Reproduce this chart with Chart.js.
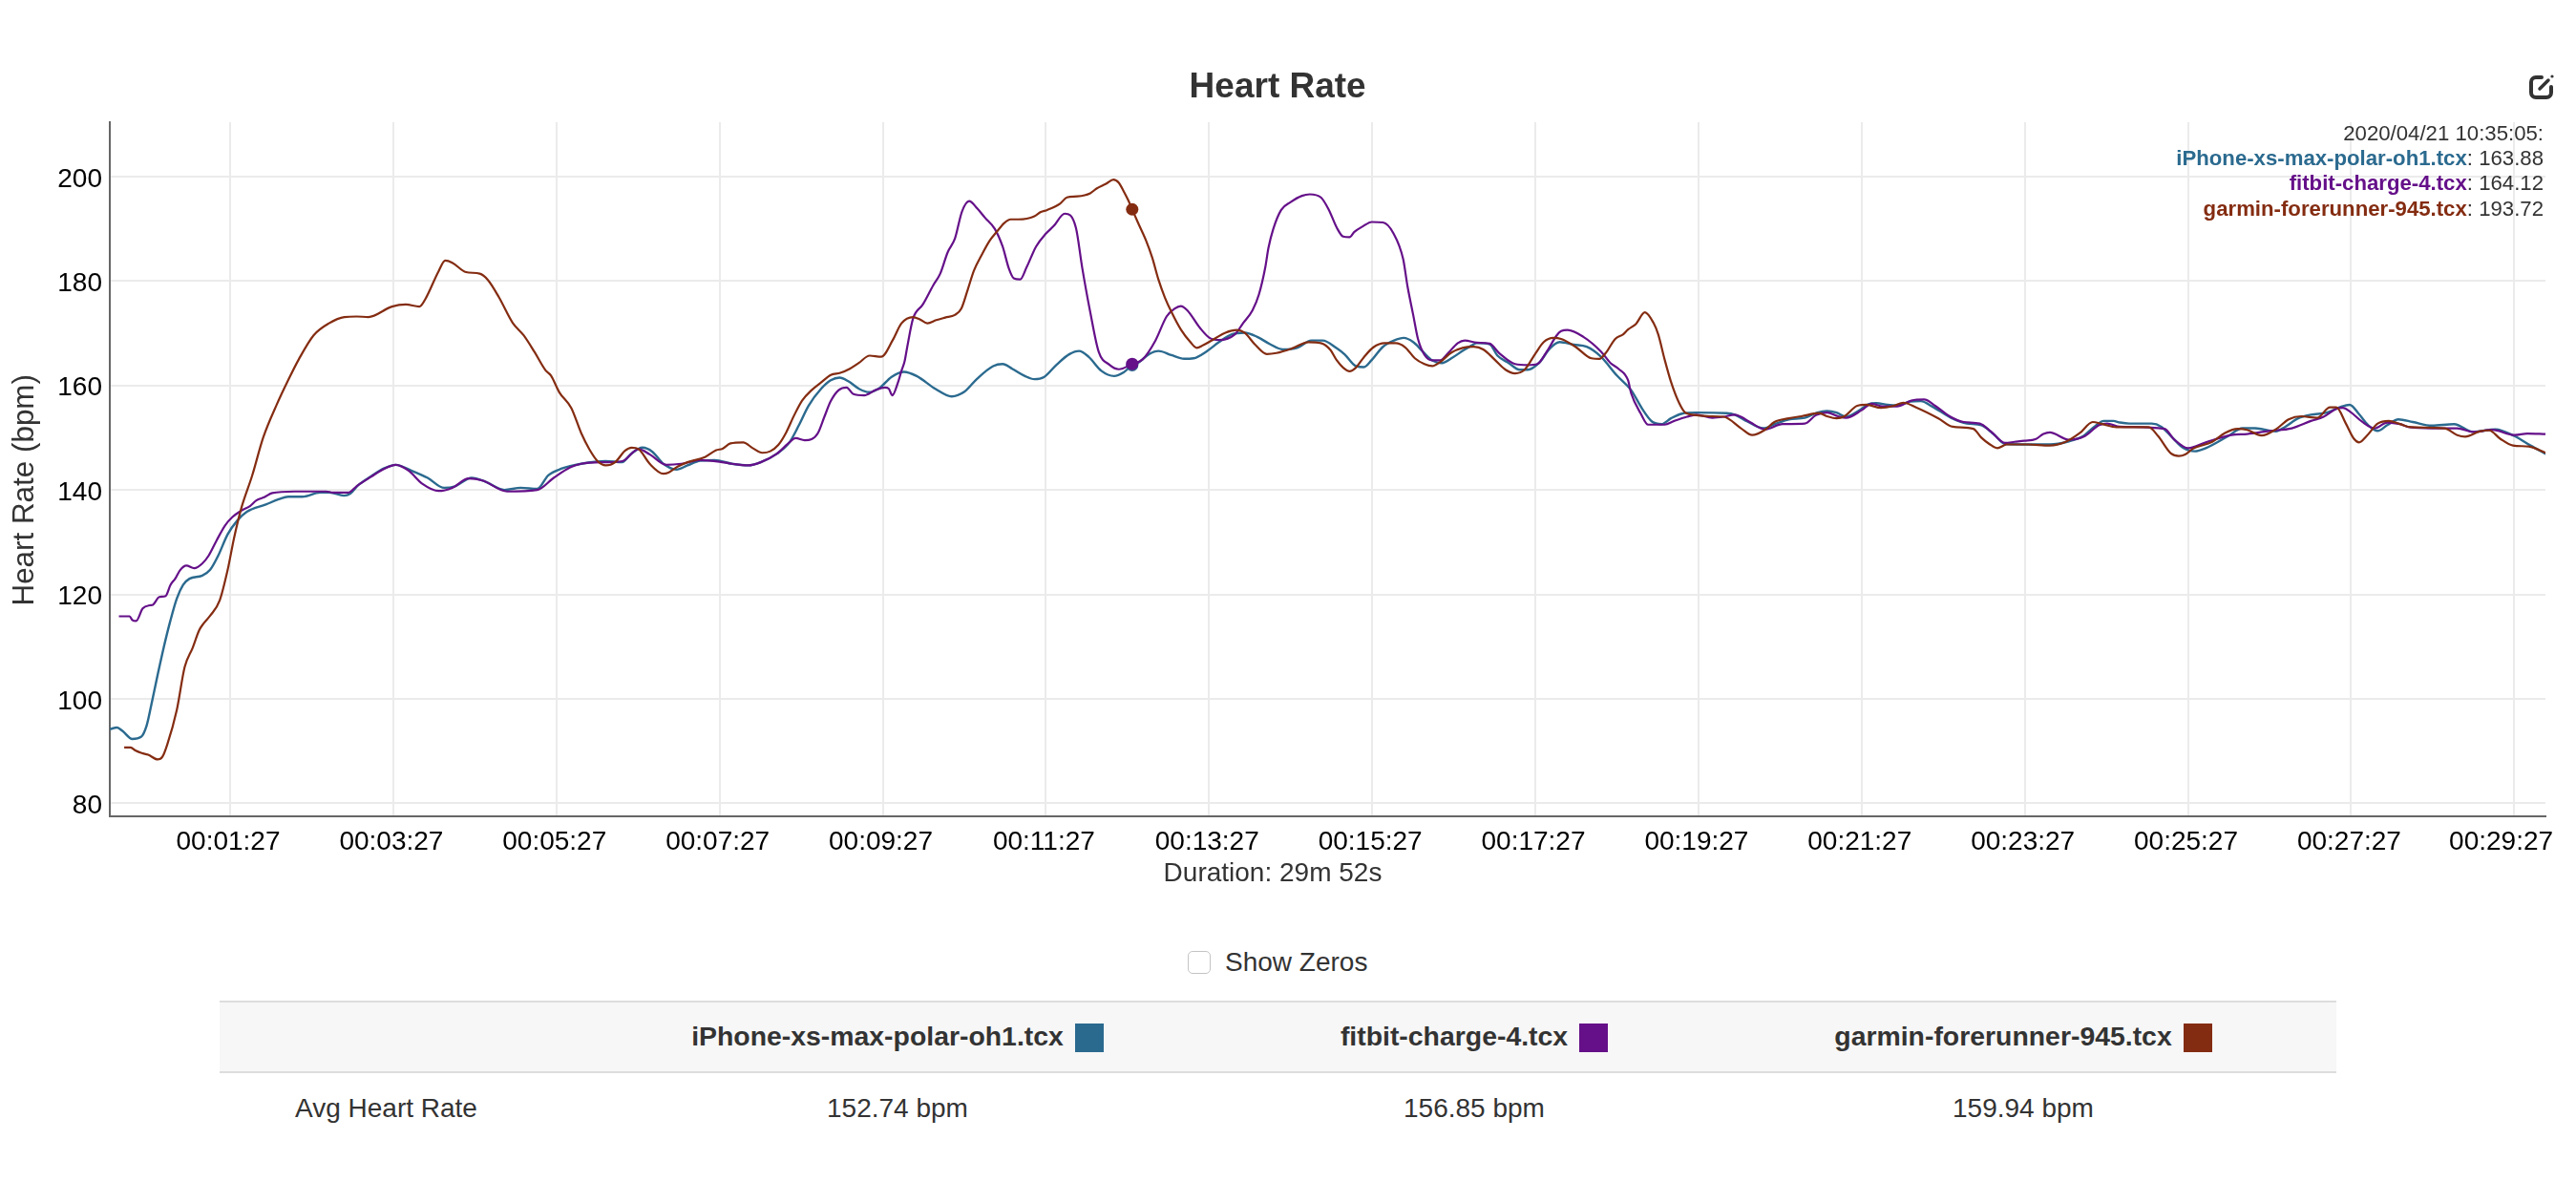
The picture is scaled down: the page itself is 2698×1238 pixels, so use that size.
<!DOCTYPE html>
<html>
<head>
<meta charset="utf-8">
<title>Heart Rate</title>
<script src="https://cdn.jsdelivr.net/npm/chart.js@4"></script>
<style>
html,body{margin:0;padding:0;background:#fff;width:2698px;height:1238px;overflow:hidden;font-family:"Liberation Sans",Arial,sans-serif;color:#333}
#wrap{position:relative;width:2698px;height:1238px}
canvas{position:absolute;left:0;top:0}
#hover{position:absolute;right:34px;top:127px;font-size:22.2px;line-height:26.2px;text-align:right;color:#333;white-space:nowrap}
#hover b{font-weight:bold}
#icon{position:absolute;left:2648px;top:77px;width:28px;height:28px}
#zeros{position:absolute;left:1244px;top:996px;height:24px;display:flex;align-items:center;font-size:28px;color:#333}
#zeros i{display:block;width:22px;height:22px;border:1.5px solid #c4c4c4;border-radius:5px;margin-right:15px}
table{position:absolute;left:230px;top:1048px;width:2217px;border-collapse:collapse;table-layout:fixed;font-size:28px;color:#333}
th{background:#f7f7f7;border-top:2px solid #ddd;border-bottom:2px solid #ddd;height:72px;padding:0;font-weight:bold;text-align:center;font-size:28.4px}
td{height:74px;padding:0;text-align:center}
td:first-child{text-align:left;padding-left:79px}
.sw{display:inline-block;width:30px;height:30px;margin-left:12px;vertical-align:middle;position:relative;top:-1px}
</style>
</head>
<body>
<div id="wrap">
<canvas id="c" width="2698" height="945"></canvas>
<svg id="icon" viewBox="0 0 28 28" fill="none" stroke="#333" stroke-width="4" stroke-linecap="round"><path d="M14 4H8a5 5 0 0 0-5 5v11a5 5 0 0 0 5 5h11a5 5 0 0 0 5-5v-6"/><path d="M12 16L21 7" stroke-width="3.5"/><circle cx="25" cy="3" r="1.6" fill="#333" stroke="none"/></svg>
<div id="hover"></div>
<div id="zeros"><i></i><span>Show Zeros</span></div>
<table id="tbl"></table>
</div>
<script>
const seriesNames = ["iPhone-xs-max-polar-oh1.tcx","fitbit-charge-4.tcx","garmin-forerunner-945.tcx"];
const seriesColors = ["#2b6a8f","#651089","#842c11"];
const avgHeartRate = ["152.74 bpm","156.85 bpm","159.94 bpm"];
const hoverLabel = "2020/04/21 10:35:05:";
const hoverValues = ["163.88","164.12","193.72"];
const hoverTime = 750.5;
const xTickSeconds = [87,207,327,447,567,687,807,927,1047,1167,1287,1407,1527,1647,1767];
const xTickLabels = ["00:01:27","00:03:27","00:05:27","00:07:27","00:09:27","00:11:27","00:13:27","00:15:27","00:17:27","00:19:27","00:21:27","00:23:27","00:25:27","00:27:27","00:29:27"];
const yTickValues = [80,100,120,140,160,180,200];

const polarTimes = [-1.4,3.8,8,15,21.5,25.5,29,33.7,38.4,43.1,47.8,52.4,57.1,66.5,72.3,78.2,85.2,92.2,99.3,113.3,122.7,129.7,140.2,153.1,160.1,170.7,175.4,181.2,190.6,200,208.9,220.2,232.3,244.4,252.5,264.6,274.6,288.7,300.8,312.9,321,331.1,345.2,363.3,375.4,381.5,390.3,397.6,405.7,415.3,423.4,432.8,443.3,456.2,467.9,477.3,489,498.4,505.4,512.4,521.8,528.8,535.3,541.7,549.9,556.9,565.1,573.3,582.6,592,606,617.7,627.1,636.5,648.2,655.2,662.2,671.6,678.6,685.6,695,704.4,711.4,718.4,727.8,737.2,744.2,750.5,754.7,762.9,769.9,779.3,788.7,795.7,805.1,814.4,823.8,833.1,842.5,851.9,861.2,871.8,882.3,890.5,901,906.9,915,920.9,926.8,934.9,943.1,950.2,957.2,964.2,971.2,978.3,985.3,994.6,1000.5,1004,1013.4,1019.2,1027.4,1035.6,1041.5,1049.7,1057.8,1064.9,1075.4,1084.8,1095.3,1107,1117.5,1125.7,1132.8,1139.8,1146.8,1155,1165.5,1187.8,1193.7,1203,1214.7,1224.1,1233.5,1245.2,1254.5,1261.5,1268.6,1275.6,1285,1292,1297.8,1306,1313,1322.4,1330.6,1338.8,1352.8,1364.5,1375.1,1384.4,1392.6,1425.4,1439.5,1450,1458.2,1465.2,1472.2,1477,1484,1500.4,1507.4,1515.6,1523.8,1532,1540.2,1556.6,1567.1,1576.5,1591.7,1598.7,1608.1,1617.5,1629.2,1638.5,1646,1652.6,1659.6,1666.6,1673.6,1681.8,1692.4,1706.4,1722.8,1736.9,1753.2,1767.3,1779,1790.2];
const polarBpm = [94.2,94.5,93.8,92.3,92.7,94.8,98.8,104.6,110.1,115,119.2,121.8,123,123.6,124.7,127.4,131.5,134.1,135.8,137.2,138.2,138.7,138.7,139.5,139.5,138.9,139.3,140.9,142.6,144.1,144.8,143.7,142.3,140.4,140.7,142.3,141.6,140,140.4,140.2,142.8,144.1,145,145.5,145.3,146.8,148.1,147.3,145,143.9,144.7,145.6,145.7,145,144.7,145.3,146.9,149.1,152.4,156.1,159.4,161,161.5,160.8,159.3,158.7,159.6,161.6,162.6,161.8,159.3,157.9,158.8,161.3,163.7,164.1,163.2,161.8,161.2,161.6,164,166,166.6,165.5,162.8,161.8,162.5,163.88,164.3,166,166.6,165.8,165.1,165.2,166.5,168.3,169.8,170.1,169.3,167.9,166.9,167.2,168.6,168.6,167.1,165.9,163.7,163.5,164.9,167.4,168.6,169.1,168.3,166.5,164.8,164.3,165.2,166.8,167.7,168.1,167.9,165.7,164.3,163,163,164.3,167.1,168.3,167.8,167.4,165.5,161.9,159.1,155.5,153.1,152.6,153.7,154.6,154.8,154.7,154.4,153.1,151.8,152.7,153.5,153.8,154.8,155.1,154.8,154,155.2,156.4,156.6,156.3,156.2,156.9,157,156,153.8,152.7,152.4,150.6,148.8,148.7,149.3,150.3,152.1,153.2,153.2,152.9,152.7,152.7,152.1,150,148,147.4,148,150.3,151.8,151.8,151.2,152.1,153.7,154.4,154.8,155.8,156.3,154.6,152.4,151.3,152.4,153.5,153,152.3,152.6,151.1,151.6,150.3,148.5,146.9];

const fitbitTimes = [5.2,13.1,15,17.8,22.7,27.9,30.2,34.9,39.6,43.1,46.6,50.1,54.8,60.6,66.5,71.2,77,83.3,88.7,95,101.6,106.3,112.1,118,134.4,157.8,162.5,174.2,180,190.6,200,208.9,218.2,228.3,240.4,250.4,262.5,272.6,290.8,312.9,325,337.1,345.2,363.3,375.4,387.5,395.6,407.8,418.8,432.8,446.9,456.2,467.9,477.3,489,497.2,503,509.6,514.7,519.4,524.1,528.8,534.6,540.5,545.1,553.4,561.6,568.6,571.4,574,578.4,580.8,583.1,585,589.3,596.5,604.2,609.3,614.8,620.1,625.3,630.6,636.5,642.3,649.4,655.2,659.9,663.4,668.1,672.8,679.8,686.8,692.7,700.9,709.1,713.7,719.6,725.9,733.6,740.7,750.5,758.2,767.6,775.8,781.6,786.3,791,800.4,807.4,814.4,826.1,832,839,843.7,848.4,850.7,854.2,860.1,867.1,875.3,881.1,889.3,895.2,901,905.7,910.4,913.9,919.8,926.8,935,942.5,949.8,953,957.2,960.7,965.4,971.2,977.1,982.9,990,995.1,1004,1013.4,1020.4,1032.1,1041.5,1048.5,1055.5,1062.5,1066,1070.7,1082.4,1095.3,1102.3,1108.2,1115.2,1117.5,1124.6,1130,1142.1,1149.2,1158.5,1165.5,1177.3,1185.5,1193.7,1198.3,1205.4,1215.9,1228.8,1245.2,1253.4,1261.5,1269.7,1275.6,1287.3,1294.3,1302.5,1313,1323.6,1333,1341.1,1351.7,1362.2,1373.9,1382.1,1392.6,1399.6,1406.7,1414.9,1420.7,1425.4,1439.5,1451.2,1461.7,1467.6,1477,1509.8,1516.8,1527.3,1540.2,1558.9,1570.6,1587,1603.4,1617.5,1626.8,1636.2,1640.9,1646.7,1654.9,1664.3,1673.6,1683,1690,1706.4,1725.1,1736.9,1750.9,1767.3,1776.7,1790.2];
const fitbitBpm = [115.8,115.8,115.1,114.9,117.3,117.9,118,119.5,119.7,121.8,123,124.6,125.5,125,125.9,127.4,130.3,133.2,134.8,136,136.9,138,138.6,139.4,139.7,139.7,139.5,139.5,140.7,142.5,144,144.8,143.7,141.2,139.8,140.4,142.2,141.8,139.7,140,142.3,144.3,145,145.3,145.5,147.8,146.8,144.8,145,145.7,145.4,145,144.7,145.3,146.9,148.8,149.9,149.5,149.7,150.9,154,157,159.1,159.6,158.4,158.1,159.1,159.6,159.4,158.1,160.7,162.8,164.6,167.3,172.8,175.5,179.2,181.4,185.5,188.1,193.3,195.3,193.9,192.1,190,186.6,182.3,180.5,180.3,182.6,186.6,189,190.5,192.9,190.2,182.6,174.1,166.4,164,163.1,164.12,165,168.6,173.2,174.7,175.2,174.4,171,169.1,168.7,169.8,171.9,174.4,177.4,182.6,186.3,189.9,193.6,195.1,196.3,196.6,196,193.6,190.2,188.5,188.4,189.4,190.4,191.3,191.2,189.2,184.2,179,173.5,168.9,165.9,164.8,164.8,166.2,168.1,168.6,168.2,168,166.2,164.1,163.9,164.1,166.5,169.5,170.4,170.6,169.3,166.5,164.3,163.2,161,158.5,154.6,152.5,152.5,153.2,154,154.4,153.8,154,154.4,154,152.9,151.6,152.6,152.7,154.3,154.8,154.1,153.8,155.3,156.5,156,156,157.1,157.3,156.1,154.1,153,152.7,151.2,149,149.2,149.4,149.7,150.7,151,149.6,150.3,152.4,152.7,152.1,151.7,149.7,148,149.1,150.5,150.7,151.3,151.8,153.2,154,155.5,155.7,154.9,153.1,151.8,152.9,152.6,152,151.8,151.8,151.1,151.5,150.5,150.8,150.7];

const garminTimes = [9.1,13.8,17.3,22,26.7,33.7,37.2,40.7,47.8,53.6,59.5,64.2,67.7,72.3,79.4,85.2,89.9,95,103.3,111.3,121.4,129.5,137.5,148.4,159.7,171,179.9,188.7,206,216.2,226.2,230.3,240.4,245.2,250.4,260.5,270.6,276.6,284.7,294.8,302.9,310.9,319,323,329.1,337.9,345.2,351.2,357.3,363.3,370.2,377.4,382.3,387.5,395.6,405.7,409.4,416.4,423.4,436.3,444.5,449.2,455,464.4,471.4,478.5,484.3,490.2,496,501.9,507.7,514.7,521.8,528.8,535.8,542.8,549.4,557.4,565.9,574.4,580.8,589.3,594,599.9,606.3,613,620.1,624.8,629.5,634.1,640,645.9,650.5,656.4,661.1,666.9,678.6,683.3,688,697.4,702.5,710.2,719.6,724.3,731.3,736.7,740.7,744.2,747.7,750.5,754.7,760.6,765.2,769.9,774.6,779.3,786.3,793.3,798,802.7,810.9,819.1,827.3,833.1,841.3,849.5,856.6,868.2,880,889.3,896.3,901,905.7,910.4,915,920.9,927.9,936.1,944.3,951.3,958.4,965.4,971.2,977.1,985.3,993.5,1001.7,1008.7,1016.9,1025.1,1032.1,1039.1,1047.3,1053.2,1060.2,1066,1076.6,1088.3,1094.1,1098.8,1105.8,1111.7,1115.2,1121.1,1127.6,1133.9,1137.4,1142.1,1146.8,1152.7,1157.3,1165.5,1174.9,1185.5,1198.3,1206.5,1215.9,1222.9,1233.5,1242.8,1255.7,1261.5,1268.6,1274.4,1283.8,1290.8,1301.3,1310.7,1317.7,1327.1,1343.5,1354,1369.2,1375.1,1380.9,1386.8,1393.8,1409,1425.4,1437.1,1447.6,1457,1464,1474.6,1477,1498.1,1505.1,1514.5,1520.3,1525,1530.8,1544.9,1554.3,1563.6,1570.6,1581.2,1591.7,1601.1,1610.4,1622.1,1631.5,1636.2,1643.2,1649.1,1653,1658.4,1666.6,1674.8,1683,1691.2,1715.8,1725.1,1731,1741.5,1748.6,1756.7,1766.1,1777.8,1790.2];
const garminBpm = [90.7,90.7,90.1,89.6,89.3,88.4,88.9,91.2,97.9,106.1,109.8,113.1,114.5,115.9,118.9,124.7,130.8,136.3,142.8,150,156.4,160.9,165,169.6,171.9,173.1,173.2,173.1,175.1,175.5,175.1,176.4,181.9,183.9,183.5,181.7,181.4,180.2,176.9,172,169.6,166.4,162.9,161.9,158.7,155.7,150.9,147.8,145.5,144.7,145.3,147.5,148.1,147.8,145,143.1,143.3,144.5,145.3,146.3,147.6,147.9,148.9,149.1,148,147.1,147.4,148.6,151,154.3,157.1,159.1,160.6,162,162.4,163.2,164.3,165.7,165.5,168.7,171.9,173.1,172.7,171.9,172.5,173,173.5,174.7,178.3,182,185.1,187.8,189.3,191.1,191.8,191.8,192.4,193.2,193.6,194.8,196,196.2,196.8,197.7,198.6,199.4,198.8,197.2,195.4,193.72,191.2,187.8,184.5,180.2,176.8,174.1,170.7,168.3,167.2,167.7,168.9,170.1,170.6,170.1,167.7,166,166.2,167.1,168.3,168.1,166.8,164.8,163.4,162.7,163.4,165.4,167.3,168.1,168.1,167.3,165.2,164.1,163.7,164.5,166.3,167.2,167.4,166.9,165,163,162.3,163,166.2,168.3,169.1,168.9,167.4,165.2,165.1,166.2,168.9,169.8,170.7,171.8,174,172,169.8,165,160.7,156.7,154.8,154.3,154.1,154,151.8,150.5,151.5,153,153.7,154.1,154.7,154.1,153.7,154.1,156.1,156.3,155.7,156.1,156.7,155.8,153.7,152.1,151.7,150,148.8,148,148.7,148.7,148.5,149.2,150.9,153,152.6,152,152,152,150.3,147,146.5,146.8,147.9,149.2,150.9,151.7,151.5,150.4,151.6,153.5,154.1,153.8,155.8,155.8,152.7,149.8,149.1,150.3,152.7,153.2,152.6,152,151.8,150.5,150.2,151.2,151.4,149.8,148.5,148.3,147.1];

function zipPoints(times, values){ return times.map((t,i)=>({x:t,y:values[i]})); }

const FONT = '"Liberation Sans", Arial, sans-serif';
Chart.defaults.font.family = FONT;
const markerRadius = ctx => (ctx.raw && ctx.raw.x === hoverTime) ? 6.5 : 0;
function mkSet(i, times, values, width, order){
  return {label:seriesNames[i], data:zipPoints(times,values), borderColor:seriesColors[i], backgroundColor:seriesColors[i],
    pointBackgroundColor:seriesColors[i], pointBorderWidth:0, borderWidth:width, pointRadius:markerRadius, pointHoverRadius:markerRadius,
    cubicInterpolationMode:'monotone', fill:false, order:order};
}
new Chart(document.getElementById('c'),{
  type:'line',
  data:{datasets:[mkSet(0,polarTimes,polarBpm,2.4,2),mkSet(1,fitbitTimes,fitbitBpm,2.2,1),mkSet(2,garminTimes,garminBpm,2.2,0)]},
  options:{
    responsive:false, animation:false, devicePixelRatio:1,
    events:[],
    layout:{padding:{left:0,right:32,top:0,bottom:0}},
    plugins:{
      legend:{display:false}, tooltip:{enabled:false},
      title:{display:true,text:" Heart Rate",color:"#333",font:{size:37,weight:'bold',lineHeight:1.2},padding:{top:69.8,bottom:13.8}},
      subtitle:{display:true,position:'bottom',text:"Duration: 29m 52s",color:"#333",font:{size:28,weight:'normal',lineHeight:1.2},padding:{top:8.2,bottom:13.2}}
    },
    scales:{
      x:{type:'linear',min:-1.5,max:1790,
        afterBuildTicks:s=>{s.ticks=xTickSeconds.map(v=>({value:v}));},
        afterFit:s=>{s.height=35;s.paddingLeft=0;s.paddingRight=0;},
        grid:{color:"#ebebeb",lineWidth:2,drawTicks:false},
        border:{color:"#666",width:2},
        ticks:{color:"#000",font:{size:28},padding:10,labelOffset:-2,autoSkip:false,maxRotation:0,minRotation:0,
          callback:(v)=>{const i=xTickSeconds.indexOf(v);return i===xTickSeconds.length-1?xTickLabels[i]+"   ":xTickLabels[i];}}
      },
      y:{type:'linear',min:77.5,max:210.4,
        afterBuildTicks:s=>{s.ticks=yTickValues.map(v=>({value:v}));},
        afterFit:s=>{s.width=115;s.paddingTop=0;s.paddingBottom=0;},
        grid:{color:"#ebebeb",lineWidth:2,drawTicks:false},
        border:{color:"#666",width:2},
        title:{display:true,text:"Heart Rate (bpm)     ",color:"#333",font:{size:31.4,lineHeight:1.2},padding:{top:8,bottom:0}},
        ticks:{color:"#000",font:{size:28},padding:8,labelOffset:3,callback:v=>String(v)}
      }
    }
  }
});

document.getElementById('hover').innerHTML = '<div>'+hoverLabel+'</div>' + seriesNames.map((n,i)=>
  '<div><b style="color:'+seriesColors[i]+'">'+n+'</b>: '+hoverValues[i]+'</div>').join('');
const colWidths=[353,714,494,656];
document.getElementById('tbl').innerHTML =
  '<colgroup>'+colWidths.map(w=>'<col style="width:'+w+'px">').join('')+'</colgroup>'+
  '<tr><th></th>'+seriesNames.map((n,i)=>'<th>'+n+'<span class="sw" style="background:'+seriesColors[i]+'"></span></th>').join('')+'</tr>'+
  '<tr><td>Avg Heart Rate</td>'+avgHeartRate.map(a=>'<td>'+a+'</td>').join('')+'</tr>';
</script>
</body>
</html>
